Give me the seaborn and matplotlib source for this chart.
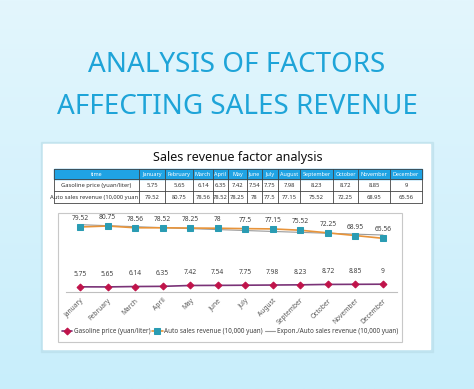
import numpy as np
import pandas as pd
import matplotlib
matplotlib.use("Agg")
import matplotlib.pyplot as plt
from matplotlib.patches import Rectangle
import seaborn as sns

months = ["January", "February", "March", "April", "May", "June", "July",
          "August", "September", "October", "November", "December"]
gas_price = [5.75, 5.65, 6.14, 6.35, 7.42, 7.54, 7.75, 7.98, 8.23, 8.72, 8.85, 9]
revenue = [79.52, 80.75, 78.56, 78.52, 78.25, 78, 77.5, 77.15, 75.52, 72.25, 68.95, 65.56]
table_rows = ["Gasoline price (yuan/liter)", "Auto sales revenue (10,000 yuan"]
legend_labels = ["Gasoline price (yuan/liter)", "Auto sales revenue (10,000 yuan)",
                 "Expon./Auto sales revenue (10,000 yuan)"]

df = pd.DataFrame({"month": months, "gas": gas_price, "revenue": revenue})

sns.set_theme(style="white")
plt.rcParams["font.family"] = ["Noto Sans", "DejaVu Sans"]

W, H = 474, 389
fig = plt.figure(figsize=(W / 100, H / 100), dpi=100)

# background in pixel coordinates
bg = fig.add_axes([0, 0, 1, 1])
bg.set_xlim(0, W)
bg.set_ylim(H, 0)
bg.axis("off")
grad = np.linspace(0, 1, 256).reshape(-1, 1)
cmap = matplotlib.colors.LinearSegmentedColormap.from_list("bgc", ["#e3f6fd", "#c8eefb"])
bg.imshow(grad, extent=[0, W, H, 0], aspect="auto", cmap=cmap, zorder=0)

bg.text(W / 2, 65, "ANALYSIS OF FACTORS", ha="center", va="center",
        fontsize=20, color="#1ea4d8")
bg.text(W / 2, 107, "AFFECTING SALES REVENUE", ha="center", va="center",
        fontsize=20, color="#1ea4d8")

# card with soft shadow
bg.add_patch(Rectangle((41, 142), 392, 210, color="#b8dce8", alpha=0.5, zorder=1))
bg.add_patch(Rectangle((43, 144), 387, 205, color="white", zorder=2))
bg.text(238, 157, "Sales revenue factor analysis", ha="center", va="center",
        fontsize=9, fontweight="bold", color="#111111", zorder=3)

# data table
bounds = [54, 139, 165, 193, 213, 228, 247, 262, 278, 300, 333, 358, 390, 422]
row_y = [169, 179, 191, 203]
bg.add_patch(Rectangle((bounds[0], row_y[0]), bounds[-1] - bounds[0], row_y[1] - row_y[0],
                       color="#1fa3e4", zorder=3))
hfs, tfs = 3.9, 4.2
bg.text((bounds[0] + bounds[1]) / 2, (row_y[0] + row_y[1]) / 2, "time", ha="center",
        va="center", fontsize=hfs, color="white", fontweight="bold", zorder=4)
for i, m in enumerate(months):
    cx = (bounds[i + 1] + bounds[i + 2]) / 2
    bg.text(cx, (row_y[0] + row_y[1]) / 2, m, ha="center", va="center", fontsize=hfs,
            color="white", fontweight="bold", zorder=4)
    bg.text(cx, (row_y[1] + row_y[2]) / 2, f"{gas_price[i]:g}", ha="center", va="center",
            fontsize=tfs, color="#333333", zorder=4)
    bg.text(cx, (row_y[2] + row_y[3]) / 2, f"{revenue[i]:g}", ha="center", va="center",
            fontsize=tfs, color="#333333", zorder=4)
bg.text((bounds[0] + bounds[1]) / 2, (row_y[1] + row_y[2]) / 2, table_rows[0],
        ha="center", va="center", fontsize=tfs, color="#333333", zorder=4)
bg.text(bounds[1] - 1, (row_y[2] + row_y[3]) / 2, table_rows[1],
        ha="right", va="center", fontsize=tfs, color="#333333", zorder=4)
for xb in bounds:
    bg.plot([xb, xb], [row_y[0], row_y[-1]], color="#444444", lw=0.6, zorder=5)
for y in row_y:
    bg.plot([bounds[0], bounds[-1]], [y, y], color="#444444", lw=0.6, zorder=5)

# chart area border
bg.add_patch(Rectangle((58, 213), 344, 129, fill=False, ec="#c8c8c8", lw=0.8, zorder=3))

# line chart
ax = fig.add_axes([66.25 / W, (H - 291.5) / H, 330.5 / W, 79.5 / H])
ax.patch.set_alpha(0)
x = np.arange(len(months))
sns.lineplot(data=df, x="month", y="gas", ax=ax, color="#7a3377", lw=1.2, marker="D",
             markersize=3.5, markerfacecolor="#c0134a", markeredgecolor="#c0134a",
             sort=False, label=legend_labels[0])
sns.lineplot(data=df, x="month", y="revenue", ax=ax, color="#e8943a", lw=1.2, marker="s",
             markersize=4, markerfacecolor="#2a9cb3", markeredgecolor="#2a9cb3",
             sort=False, label=legend_labels[1])
b, a = np.polyfit(x, np.log(revenue), 1)
ax.plot(x, np.exp(a + b * x), color="#9a9a9a", lw=0.8, label=legend_labels[2], zorder=1)

for i in range(len(months)):
    ax.annotate(f"{gas_price[i]:g}", (i, gas_price[i]), xytext=(0, 6.5), textcoords="offset points",
                ha="center", va="bottom", fontsize=4.8, color="#404040")
    ax.annotate(f"{revenue[i]:g}", (i, revenue[i]), xytext=(0, 3.5), textcoords="offset points",
                ha="center", va="bottom", fontsize=4.8, color="#404040")

ax.set_xlim(-0.5, len(months) - 0.5)
ax.set_ylim(0, 98)
ax.set_xlabel("")
ax.set_ylabel("")
ax.set_yticks([])
ax.set_xticks(x)
ax.set_xticklabels(months, rotation=45, ha="right", rotation_mode="anchor",
                   fontsize=4.8, color="#595959")
ax.set_xticks(np.arange(-0.5, len(months), 1), minor=True)
ax.tick_params(axis="x", which="major", length=0, pad=4)
ax.tick_params(axis="x", which="minor", length=2.5, color="#bfbfbf", width=0.6)
for s in ["top", "right", "left"]:
    ax.spines[s].set_visible(False)
ax.spines["bottom"].set_color("#bfbfbf")
ax.spines["bottom"].set_linewidth(0.8)

ax.legend(loc="center", bbox_to_anchor=(230 / W, (H - 331.7) / H),
          bbox_transform=fig.transFigure, ncol=3, frameon=False, fontsize=4.6,
          handlelength=1.6, columnspacing=0.3, handletextpad=0.3, labelcolor="#404040")

fig.savefig("out.png", dpi=100)
